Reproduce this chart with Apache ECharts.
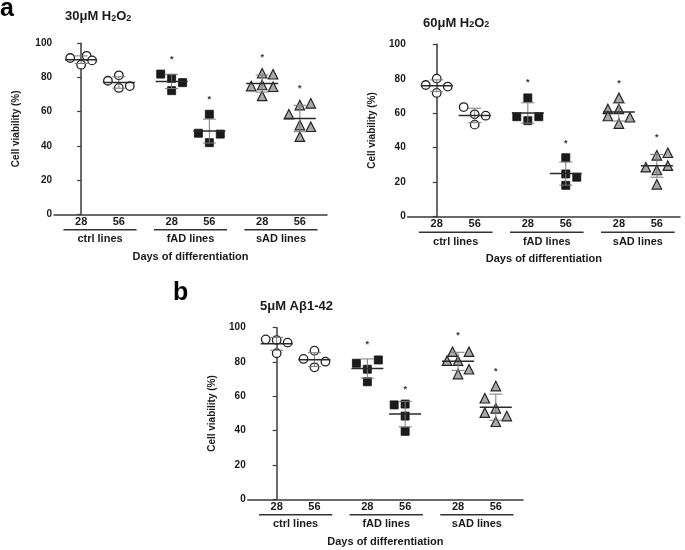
<!DOCTYPE html>
<html>
<head>
<meta charset="utf-8">
<script src="https://cdn.jsdelivr.net/npm/echarts@6/dist/echarts.min.js"></script>
<style>
html,body{margin:0;padding:0;background:#fff;}
#chart{width:685px;height:550px;}
</style>
</head>
<body>
<div id="chart"></div>
<script>
// ---------------- DATA ----------------
const groupNames = ['ctrl lines', 'fAD lines', 'sAD lines'];
const dayLabels = ['28', '56', '28', '56', '28', '56'];
const cellSlots = [0, 1, 2.4, 3.4, 4.8, 5.8];        // x slot of each group/day cell
const yTickValues = [0, 20, 40, 60, 80, 100];
const panelTitles = ['30μM H2O2', '60μM H2O2', '5μM Aβ1-42'];
const xAxisTitle = 'Days of differentiation';
const yAxisTitle = 'Cell viability (%)';

// Panel 1: 30 µM H2O2
const p1Ctrl28 = [91.4, 87.5, 92.7, 90.0];
const p1Ctrl56 = [78.1, 81.3, 73.9, 75.0];
const p1Fad28  = [82.0, 79.5, 72.3, 77.0];
const p1Fad56  = [47.4, 58.5, 41.9, 46.9];
const p1Sad28  = [82.5, 81.9, 75.0, 75.6, 74.6, 69.2];
const p1Sad56  = [63.9, 64.9, 58.5, 52.2, 51.2, 45.4];
const p1Stars  = [null, null, 92.2, 68.4, 93.2, 75.0];
const p1Jitter = [[-1, 0, 0.5, 1], [-1, 0, 0, 1], [-1, 0, 0, 1], [-1, 0, 0, 1], [0, 1, -1, 0, 1, 0], [0, 1, -1, 0, 1, 0]];

// Panel 2: 60 µM H2O2
const p2Ctrl28 = [76.4, 80.1, 71.8, 75.5];
const p2Ctrl56 = [63.6, 59.4, 53.4, 58.6];
const p2Fad28  = [68.9, 58.0, 55.7, 58.0];
const p2Fad56  = [34.2, 24.8, 22.9, 18.2];
const p2Sad28  = [69.0, 62.5, 62.5, 58.4, 57.7, 54.0];
const p2Sad56  = [35.6, 37.1, 28.7, 27.1, 29.6, 18.8];
const p2Stars  = [null, null, 79.3, 44.0, 78.9, 47.2];
const p2Jitter = [[-1, 0, 0, 1], [-1, 0, 0, 1], [0, -1, 0, 1], [0, 0, 1, 0], [0, -1, 0, -1, 1, 0], [0, 1, -1, 0, 1, 0]];

// Panel 3: 5 µM Aβ1-42
const p3Ctrl28 = [93.2, 92.8, 91.3, 85.1];
const p3Ctrl56 = [81.8, 86.6, 80.2, 76.9];
const p3Fad28  = [79.3, 81.2, 75.8, 68.5];
const p3Fad56  = [55.0, 55.5, 48.5, 39.6];
const p3Sad28  = [86.0, 86.0, 80.8, 80.8, 75.8, 73.0];
const p3Sad56  = [66.0, 58.9, 53.0, 50.5, 48.5, 45.2];
const p3Stars  = [null, null, 91.5, 65.6, 97.1, 75.9];
const p3Jitter = [[-1, 0, 1, 0], [-1, 0, 1, 0], [-1, 1, 0, 0], [-1, 0, 0, 0], [-0.5, 1, -1, 0, 1, 0], [0, -1, 0, -1, 1, 0]];

const panels = [
  { cells: [p1Ctrl28, p1Ctrl56, p1Fad28, p1Fad56, p1Sad28, p1Sad56], stars: p1Stars, jitter: p1Jitter },
  { cells: [p2Ctrl28, p2Ctrl56, p2Fad28, p2Fad56, p2Sad28, p2Sad56], stars: p2Stars, jitter: p2Jitter },
  { cells: [p3Ctrl28, p3Ctrl56, p3Fad28, p3Fad56, p3Sad28, p3Sad56], stars: p3Stars, jitter: p3Jitter }
];

// ---------------- LAYOUT / STYLE ----------------
const FONT = '"Liberation Sans", Arial, Helvetica, sans-serif';
const TXT = '#1a1a1a';
const AX = '#3a3a3a';
const JIT = 0.29;
const layouts = [
  { left: 54,    top: 43.3,  width: 273,   height: 171,   xMin: -0.72,  xMax: 6.52, nameGap: 33, tx: 65,  ty: 18 },
  { left: 407.7, top: 44.3,  width: 272.3, height: 172.4, xMin: -0.765, xMax: 6.41, nameGap: 30, tx: 423, ty: 24.5 },
  { left: 247.7, top: 327.7, width: 275.3, height: 171.6, xMin: -0.767, xMax: 6.52, nameGap: 30, tx: 260, ty: 307.5 }
];
const shapes = ['circle', 'rect', 'triangle'];
const shapeStyle = [
  { color: '#ffffff', borderColor: '#222', borderWidth: 1.3 },
  { color: '#1b1b1b', borderColor: '#111', borderWidth: 0.8 },
  { color: '#a9a9a9', borderColor: '#222', borderWidth: 1.2 }
];
const shapeSize = [8.5, 8, 9.5];

function mean(a) { return a.reduce((s, v) => s + v, 0) / a.length; }
function sd(a) { const m = mean(a); return Math.sqrt(a.reduce((s, v) => s + (v - m) * (v - m), 0) / (a.length - 1)); }

const grids = [], xAxes = [], yAxes = [], series = [], graphics = [];

layouts.forEach((L, p) => {
  grids.push({ left: L.left, top: L.top, width: L.width, height: L.height, containLabel: false });
  xAxes.push({
    gridIndex: p, type: 'value', min: L.xMin, max: L.xMax,
    splitLine: { show: false },
    axisLine: { show: true, onZero: false, lineStyle: { color: AX, width: 1.5 } },
    axisTick: { show: false },
    axisLabel: {
      customValues: cellSlots, margin: 2,
      formatter: v => { const i = cellSlots.findIndex(s => Math.abs(s - v) < 1e-6); return i >= 0 ? dayLabels[i] : ''; },
      color: TXT, fontFamily: FONT, fontWeight: 'bold', fontSize: 11
    },
    name: xAxisTitle, nameLocation: 'middle', nameGap: 37,
    nameTextStyle: { color: TXT, fontFamily: FONT, fontWeight: 'bold', fontSize: 11 }
  });
  yAxes.push({
    gridIndex: p, type: 'value', min: 0, max: 100, interval: 20,
    splitLine: { show: false },
    axisLine: { show: true, lineStyle: { color: AX, width: 1.5 } },
    axisTick: { show: true, length: 4, lineStyle: { color: AX, width: 1.2 } },
    axisLabel: {
      margin: 2, color: TXT, fontFamily: FONT, fontWeight: 'bold', fontSize: 10,
      formatter: v => yTickValues.includes(v) ? String(v) : ''
    },
    name: yAxisTitle, nameLocation: 'middle', nameGap: L.nameGap, nameRotate: 90,
    nameTextStyle: { color: TXT, fontFamily: FONT, fontWeight: 'bold', fontSize: 10 }
  });

  const P = panels[p];
  for (let g = 0; g < 3; g++) {
    const pts = [];
    for (let d = 0; d < 2; d++) {
      const c = g * 2 + d;
      P.cells[c].forEach((v, k) => pts.push([cellSlots[c] + P.jitter[c][k] * JIT, v]));
    }
    series.push({
      type: 'scatter', xAxisIndex: p, yAxisIndex: p, symbol: shapes[g], symbolSize: shapeSize[g],
      data: pts, itemStyle: Object.assign({ opacity: 1 }, shapeStyle[g]), z: 3, silent: true
    });
  }
  series.push({
    type: 'custom', xAxisIndex: p, yAxisIndex: p, z: 4, silent: true,
    encode: { x: 0, y: 1 },
    data: P.cells.map((a, c) => [cellSlots[c], mean(a), sd(a)]),
    renderItem: (params, api) => {
      const x = api.value(0), m = api.value(1), s = api.value(2);
      const c = api.coord([x, m]), hi = api.coord([x, m + s]), lo = api.coord([x, m - s]);
      const gs = { stroke: '#7a7a7a', lineWidth: 1 };
      return { type: 'group', children: [
        { type: 'line', shape: { x1: c[0], y1: hi[1], x2: c[0], y2: lo[1] }, style: gs },
        { type: 'line', shape: { x1: c[0] - 6.5, y1: hi[1], x2: c[0] + 6.5, y2: hi[1] }, style: gs },
        { type: 'line', shape: { x1: c[0] - 6.5, y1: lo[1], x2: c[0] + 6.5, y2: lo[1] }, style: gs },
        { type: 'line', shape: { x1: c[0] - 16, y1: c[1], x2: c[0] + 16, y2: c[1] }, style: { stroke: '#2a2a2a', lineWidth: 1.5 } }
      ] };
    }
  });
  series.push({
    type: 'custom', xAxisIndex: p, yAxisIndex: p, z: 5, silent: true,
    encode: { x: 0, y: 1 },
    data: P.stars.map((v, c) => v == null ? null : [cellSlots[c], v]).filter(d => d),
    renderItem: (params, api) => {
      const pt = api.coord([api.value(0), api.value(1)]);
      return { type: 'text', x: pt[0], y: pt[1] + 2.5,
        style: { text: '*', fill: '#333', font: 'bold 9px ' + FONT, textAlign: 'center', textVerticalAlign: 'middle' } };
    }
  });
  series.push({
    type: 'custom', xAxisIndex: p, yAxisIndex: p, z: 5, silent: true, clip: false,
    encode: { x: 0, y: 1 },
    data: groupNames.map((n, g) => [(cellSlots[2 * g] + cellSlots[2 * g + 1]) / 2, 0, g]),
    renderItem: (params, api) => {
      const cx = api.value(0), g = api.value(2);
      const a = api.coord([cx - 0.97, 0]), b = api.coord([cx + 0.97, 0]), m = api.coord([cx, 0]);
      return { type: 'group', children: [
        { type: 'line', shape: { x1: a[0], y1: a[1] + 15.5, x2: b[0], y2: b[1] + 15.5 }, style: { stroke: '#333', lineWidth: 1.5 } },
        { type: 'text', x: m[0], y: m[1] + 25,
          style: { text: groupNames[g], fill: TXT, font: 'bold 11px ' + FONT, textAlign: 'center', textVerticalAlign: 'middle' } }
      ] };
    }
  });

  const t = panelTitles[p];
  let rich;
  if (t.indexOf('H2O2') >= 0) {
    const pre = t.replace('H2O2', '');
    rich = '{n|' + pre + 'H}{s|2}{n|O}{s|2}';
  } else {
    rich = '{n|' + t + '}';
  }
  graphics.push({
    type: 'text', left: L.tx, top: L.ty - 8, silent: true,
    style: {
      text: rich, fill: TXT,
      rich: {
        n: { fontFamily: FONT, fontWeight: 'bold', fontSize: 13, lineHeight: 16, verticalAlign: 'bottom', fill: TXT },
        s: { fontFamily: FONT, fontWeight: 'bold', fontSize: 9, lineHeight: 9, verticalAlign: 'bottom', fill: TXT }
      }
    }
  });
});

graphics.push({ type: 'text', left: 0, top: -3, silent: true, style: { text: 'a', fill: '#000', font: 'bold 25px ' + FONT } });
graphics.push({ type: 'text', left: 173, top: 281, silent: true, style: { text: 'b', fill: '#000', font: 'bold 25px ' + FONT } });

const chart = echarts.init(document.getElementById('chart'), null, { renderer: 'canvas', width: 685, height: 550 });
chart.setOption({
  backgroundColor: '#ffffff',
  animation: false,
  grid: grids, xAxis: xAxes, yAxis: yAxes, series: series, graphic: graphics
});
</script>
</body>
</html>
